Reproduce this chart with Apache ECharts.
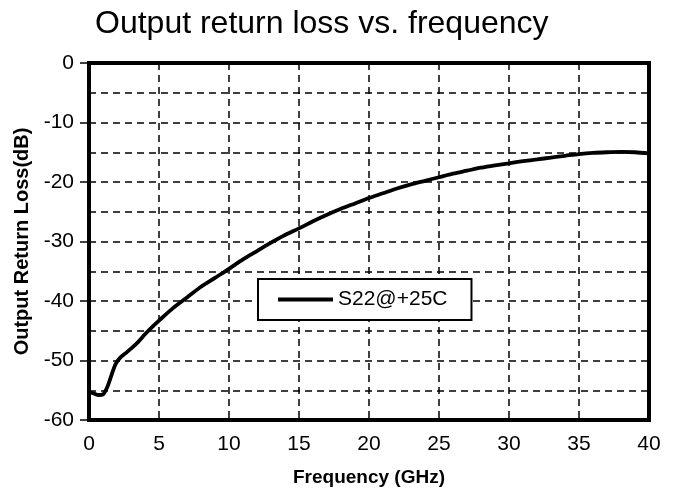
<!DOCTYPE html>
<html>
<head>
<meta charset="utf-8">
<script src="https://cdn.jsdelivr.net/npm/echarts@6/dist/echarts.min.js"></script>
<style>
html,body{margin:0;padding:0;background:#fff;}
#chart{width:676px;height:493px;}
</style>
</head>
<body>
<div id="chart"></div>
<script>
const freqGHz = [0, 0.3, 0.7, 1.0, 1.3, 1.6, 1.9, 2.2, 2.6, 3, 3.5, 4, 4.5, 5, 6, 7, 8, 9, 10, 11, 12, 13, 14, 15, 16, 17, 18, 19, 20, 21, 22, 23, 24, 25, 26, 27, 28, 29, 30, 31, 32, 33, 34, 35, 36, 37, 38, 39, 40];
const s22dB = [-55.3, -55.5, -55.8, -55.7, -54.5, -52.5, -50.6, -49.6, -48.8, -48.0, -46.9, -45.6, -44.4, -43.3, -41.2, -39.4, -37.6, -36.1, -34.6, -33.0, -31.6, -30.2, -28.9, -27.8, -26.6, -25.5, -24.5, -23.6, -22.7, -21.9, -21.1, -20.4, -19.8, -19.2, -18.6, -18.1, -17.6, -17.2, -16.85, -16.5, -16.2, -15.9, -15.6, -15.3, -15.1, -15.0, -14.95, -15.0, -15.2];
const seriesName = 'S22@+25C';
const titleText = 'Output return loss vs. frequency';
const xName = 'Frequency (GHz)';
const yName = 'Output Return Loss(dB)';

const font = '"Liberation Sans", Arial, sans-serif';
const chart = echarts.init(document.getElementById('chart'), null, {renderer: 'canvas'});
const dashed = {show: true, lineStyle: {color: '#000', width: 1.5, type: [7, 5]}};
chart.setOption({
  animation: false,
  backgroundColor: '#fff',
  title: {
    text: titleText, left: 95, top: 8, padding: 0,
    textStyle: {fontFamily: font, fontSize: 32, fontWeight: 'normal', color: '#000'}
  },
  grid: {left: 89, right: 27, top: 63, bottom: 73, show: true, borderColor: '#000', borderWidth: 4, backgroundColor: 'transparent'},
  legend: {
    left: 258, top: 279, orient: 'horizontal',
    padding: [10, 24, 10, 20],
    borderColor: '#000', borderWidth: 2, backgroundColor: '#fff',
    icon: 'rect', itemWidth: 55, itemHeight: 4, itemGap: 7,
    textStyle: {fontFamily: font, fontSize: 21, color: '#000', padding: [0, 0, 0, 0]},
    data: [seriesName]
  },
  xAxis: {
    type: 'value', min: 0, max: 40, interval: 5,
    name: xName, nameLocation: 'middle', nameGap: 48,
    nameTextStyle: {fontFamily: font, fontSize: 19, fontWeight: 'bold', color: '#000'},
    axisLine: {show: true, onZero: false, lineStyle: {color: '#000', width: 4}},
    axisTick: {show: false},
    axisLabel: {margin: 14, fontFamily: font, fontSize: 21, color: '#000'},
    splitLine: dashed
  },
  yAxis: {
    type: 'value', min: -60, max: 0, interval: 10,
    name: yName, nameLocation: 'middle', nameGap: 57, nameRotate: 90,
    nameTextStyle: {fontFamily: font, fontSize: 20, fontWeight: 'bold', color: '#000'},
    axisLine: {show: true, onZero: false, lineStyle: {color: '#000', width: 4}},
    axisTick: {show: true, length: 9, lineStyle: {color: '#000', width: 1.5}},
    axisLabel: {margin: 15, fontFamily: font, fontSize: 21, color: '#000'},
    splitLine: dashed,
    minorTick: {show: false, splitNumber: 2},
    minorSplitLine: dashed
  },
  series: [{
    name: seriesName, type: 'line', smooth: 0.3, showSymbol: false,
    data: freqGHz.map((f, i) => [f, s22dB[i]]),
    lineStyle: {color: '#000', width: 3.8},
    itemStyle: {color: '#000'},
    z: 3
  }]
});
</script>
</body>
</html>
